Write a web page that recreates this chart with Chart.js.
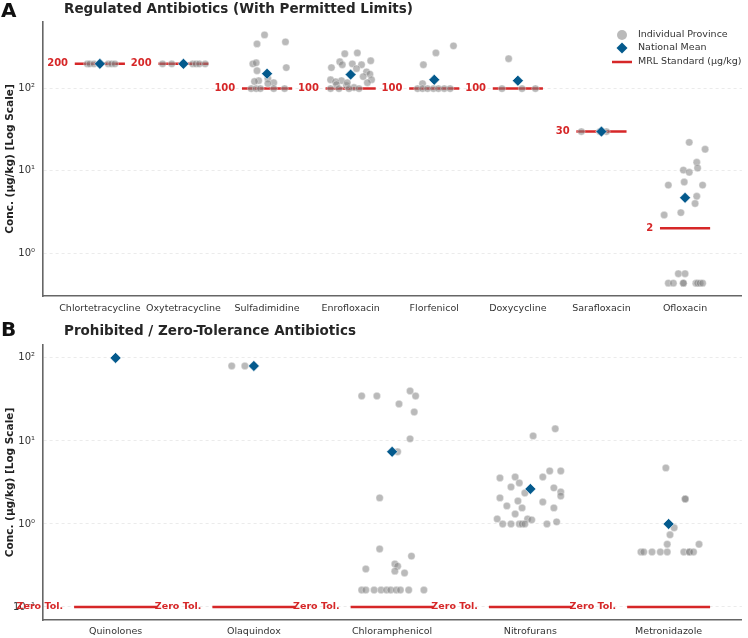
<!DOCTYPE html>
<html lang="en">
<head>
<meta charset="UTF-8">
<title>Antibiotic residues by province</title>
<style>
  body { margin: 0; background: #ffffff; }
  .panel { position: absolute; left: 0; }
</style>
</head>
<body>
<div class="panel" style="top:0"><canvas id="chartA" width="748" height="318"></canvas></div>
<div class="panel" style="top:318px"><canvas id="chartB" width="748" height="320"></canvas></div>

<script src="https://cdn.jsdelivr.net/npm/chart.js"></script>
<script>
// ---- Panel A: regulated antibiotics (values in µg/kg) ----
const regCats = ['Chlortetracycline', 'Oxytetracycline', 'Sulfadimidine', 'Enrofloxacin',
                 'Florfenicol', 'Doxycycline', 'Sarafloxacin', 'Ofloxacin'];
const regMRL = [200, 200, 100, 100, 100, 100, 30, 2];
const regMean = [200, 200, 152, 148, 128, 125, 30, 4.7];
const regProvince = [
  [200, 200, 200, 200, 200, 200, 200],
  [200, 200, 200, 200, 200, 200, 200],
  [450, 350, 370, 200, 206, 165, 180, 132, 125, 122, 118, 115, 100, 100, 100, 100, 100],
  [272, 265, 212, 195, 200, 195, 218, 180, 175, 160, 150, 140, 128, 128, 125, 121, 118, 112, 109, 103, 118, 100, 100, 100, 100],
  [331, 272, 195, 115, 100, 100, 100, 100, 100, 100, 100],
  [231, 100, 100, 100],
  [30, 30, 30],
  [22.2, 18.3, 12.7, 10.8, 10.2, 9.6, 7.3, 6.7, 6.7, 4.9, 4.0, 3.1, 2.9, 0.56, 0.56,
   0.43, 0.43, 0.43, 0.43, 0.43, 0.43, 0.43, 0.43]
];
// strip-plot jitter (fraction of a category)
const regJitter = [
  [-0.15, -0.12, -0.07, 0, 0.1, 0.14, 0.18],
  [-0.25, -0.14, 0, 0.11, 0.15, 0.19, 0.26],
  [-0.03, -0.12, 0.22, -0.17, -0.13, -0.12, 0.23, 0.01, -0.1, -0.15, 0.08, 0.01, -0.19, -0.13, -0.08, 0.08, 0.21],
  [0.08, -0.07, -0.13, -0.1, 0.02, 0.13, 0.24, -0.23, 0.07, 0.19, 0.23, 0.15, -0.24, 0.25, -0.11, -0.18, 0.2, -0.17, -0.05, 0.04, -0.04, -0.24, -0.14, -0.02, 0.1],
  [0.23, 0.02, -0.13, -0.14, -0.2, -0.14, -0.08, -0.01, 0.05, 0.12, 0.19],
  [-0.11, -0.19, 0.05, 0.21],
  [-0.24, -0.02, 0.06],
  [0.05, 0.24, 0.14, 0.15, -0.02, 0.05, -0.01, -0.2, 0.21, 0.14, 0.12, -0.05, -0.25, -0.08, 0,
   -0.2, -0.14, -0.02, -0.02, 0.13, 0.15, 0.18, 0.21]
];
const regTicks = [1, 10, 100];

// ---- Panel B: prohibited / zero-tolerance antibiotics ----
const banCats = ['Quinolones', 'Olaquindox', 'Chloramphenicol', 'Nitrofurans', 'Metronidazole'];
const banLimit = [0.1, 0.1, 0.1, 0.1, 0.1];   // zero tolerance, drawn on the axis floor
const banMean = [100, 80, 7.4, 2.64, 1.0];
const banProvince = [
  [100],
  [80, 80, 80],
  [40, 34.8, 34.8, 34.8, 27.9, 22.3, 10.6, 7.4, 2.06, 0.5, 0.41, 0.33, 0.31, 0.287, 0.27, 0.257,
   0.16, 0.16, 0.16, 0.16, 0.16, 0.16, 0.16, 0.16, 0.16, 0.16],
  [14.0, 11.5, 4.35, 4.35, 3.68, 3.68, 3.58, 3.12, 2.79, 2.72, 2.43, 2.36, 2.17, 2.06, 1.89, 1.84,
   1.65, 1.56, 1.56, 1.32, 1.15, 1.15, 1.12, 1.06, 1, 1, 1, 1, 1, 1],
  [4.73, 2.0, 2.0, 0.9, 0.74, 0.57, 0.57, 0.46, 0.46, 0.46, 0.46, 0.46, 0.46, 0.46, 0.46, 0.46]
];
const banJitter = [
  [0],
  [-0.16, -0.065, 0],
  [0.13, -0.22, -0.11, 0.17, 0.05, 0.16, 0.13, 0.04, -0.09, -0.09, 0.14, 0.02, 0.04, -0.19, 0.02, 0.09,
   -0.22, -0.19, -0.13, -0.08, -0.04, -0.01, 0.03, 0.06, 0.12, 0.23],
  [0.18, 0.02, 0.14, 0.22, 0.09, -0.11, -0.22, -0.08, -0.14, 0.17, 0.22, -0.04, 0.22, -0.22, -0.09, 0.09,
   -0.17, -0.06, 0.17, -0.11, -0.24, -0.02, 0.01, 0.19, -0.2, -0.14, -0.08, -0.06, -0.04, 0.12],
  [-0.02, 0.12, 0.12, 0.04, 0.01, -0.01, 0.22, -0.2, -0.18, -0.12, -0.06, -0.01, 0.11, 0.15, 0.15, 0.18]
];
const banTicks = [0.1, 1, 10, 100];

const FONT = '"DejaVu Sans", sans-serif';
const RED = '#d62728';
const BLUE = '#045a8d';
const GREY = 'rgba(130,130,130,0.55)';
const SUP = { '-': '⁻', '0': '⁰', '1': '¹', '2': '²', '3': '³' };

function powLabel(v) {
  const e = String(Math.round(Math.log10(v)));
  return '10' + e.split('').map(c => SUP[c]).join('');
}

// titles, panel letters, MRL labels and legend
const decor = {
  id: 'decor',
  afterDatasetsDraw(chart, args, o) {
    const { ctx, scales: { x, y } } = chart;
    ctx.save();
    ctx.fillStyle = RED;
    ctx.font = 'bold ' + o.labelSize + 'px ' + FONT;
    ctx.textAlign = 'right';
    ctx.textBaseline = 'middle';
    o.limits.forEach((v, i) => {
      ctx.fillText(o.limitText(v), x.getPixelForValue(i - 0.38), y.getPixelForValue(v));
    });
    ctx.restore();
  },
  afterDraw(chart, args, o) {
    const ctx = chart.ctx;
    ctx.save();
    ctx.fillStyle = '#111';
    ctx.textAlign = 'left';
    ctx.textBaseline = 'alphabetic';
    ctx.font = 'bold 20px ' + FONT;
    ctx.fillText(o.letter, 1, o.letterY);
    ctx.fillStyle = '#262626';
    ctx.font = 'bold 13.5px ' + FONT;
    ctx.fillText(o.title, 64, o.titleY);
    if (o.legend) {
      ctx.font = '9.5px ' + FONT;
      ctx.fillStyle = '#333';
      ctx.textBaseline = 'middle';
      ctx.fillText('Individual Province', 638, 35);
      ctx.fillText('National Mean', 638, 48);
      ctx.fillText('MRL Standard (µg/kg)', 638, 62);
      ctx.fillStyle = GREY;
      ctx.beginPath(); ctx.arc(622, 35, 5, 0, Math.PI * 2); ctx.fill();
      ctx.fillStyle = BLUE;
      ctx.beginPath();
      ctx.moveTo(622, 42.5); ctx.lineTo(627.5, 48); ctx.lineTo(622, 53.5); ctx.lineTo(616.5, 48);
      ctx.closePath(); ctx.fill();
      ctx.strokeStyle = RED; ctx.lineWidth = 2.5;
      ctx.beginPath(); ctx.moveTo(612, 62); ctx.lineTo(632, 62); ctx.stroke();
    }
    ctx.restore();
  }
};

function makePanel(id, p) {
  const points = [];
  p.province.forEach((vals, i) => {
    vals.forEach((v, j) => points.push({ x: i + p.jitter[i][j], y: v }));
  });
  const segs = [];
  p.limits.forEach((v, i) => {
    segs.push({ x: i - 0.3, y: v }, { x: i + 0.3, y: v }, { x: i + 0.3, y: null });
  });

  return new Chart(document.getElementById(id), {
    type: 'scatter',
    data: {
      datasets: [
        { label: 'National Mean', data: p.mean.map((v, i) => ({ x: i, y: v })),
          pointStyle: 'rectRot', pointRadius: 5.5, backgroundColor: BLUE,
          borderColor: '#ffffff', borderWidth: 0.6 },
        { label: 'Individual Province', data: points, pointRadius: 3.7,
          backgroundColor: GREY, borderColor: 'rgba(255,255,255,0.7)', borderWidth: 0.5 },
        { type: 'line', label: 'MRL Standard', data: segs, borderColor: RED, borderWidth: 2.5,
          pointRadius: 0, spanGaps: false, fill: false }
      ]
    },
    options: {
      responsive: false,
      animation: false,
      events: [],
      layout: { padding: { top: p.padTop, right: 1, left: 0, bottom: 0 } },
      plugins: {
        legend: { display: false },
        tooltip: { enabled: false },
        decor: p.decor
      },
      scales: {
        x: {
          type: 'linear', min: p.xMin, max: p.xMax,
          afterBuildTicks: s => { s.ticks = p.cats.map((c, i) => ({ value: i })); },
          afterFit: s => { s.height = p.xAxisH; },
          ticks: { callback: v => p.cats[v], autoSkip: false, maxRotation: 0, padding: p.xPad,
                   color: '#333', font: { family: FONT, size: 9.5 } },
          grid: { display: false, drawTicks: false },
          border: { display: true, color: '#666', width: 1.6 }
        },
        y: {
          type: 'logarithmic', min: p.yMin, max: p.yMax,
          afterBuildTicks: s => { s.ticks = p.yTicks.map(v => ({ value: v })); },
          afterFit: s => { s.width = 43; },
          ticks: { callback: v => powLabel(v), padding: 8, color: '#333',
                   font: { family: FONT, size: 10 } },
          grid: { color: '#e6e6e6', lineWidth: 0.8, drawTicks: false },
          border: { display: true, color: '#666', width: 1.6, dash: [3, 3] },
          title: { display: true, text: 'Conc. (µg/kg) [Log Scale]', color: '#222',
                   font: { family: FONT, size: 10.5, weight: 'bold' }, padding: { top: 4, bottom: 0 } }
        }
      }
    },
    plugins: [decor]
  });
}

makePanel('chartA', {
  cats: regCats, province: regProvince, jitter: regJitter, mean: regMean, limits: regMRL,
  xMin: -0.68, xMax: 7.68, yMin: 0.313, yMax: 646, yTicks: regTicks,
  padTop: 22, xAxisH: 22, xPad: 7,
  decor: { letter: 'A', letterY: 17, title: 'Regulated Antibiotics (With Permitted Limits)', titleY: 12.5,
           legend: true, limits: regMRL, labelSize: 10, limitText: v => String(v) }
});

makePanel('chartB', {
  cats: banCats, province: banProvince, jitter: banJitter, mean: banMean, limits: banLimit,
  xMin: -0.525, xMax: 4.53, yMin: 0.0697, yMax: 143, yTicks: banTicks,
  padTop: 27, xAxisH: 18, xPad: 6,
  decor: { letter: 'B', letterY: 18, title: 'Prohibited / Zero-Tolerance Antibiotics', titleY: 17,
           legend: false, limits: banLimit, labelSize: 9.5, limitText: v => 'Zero Tol.' }
});
</script>
</body>
</html>
